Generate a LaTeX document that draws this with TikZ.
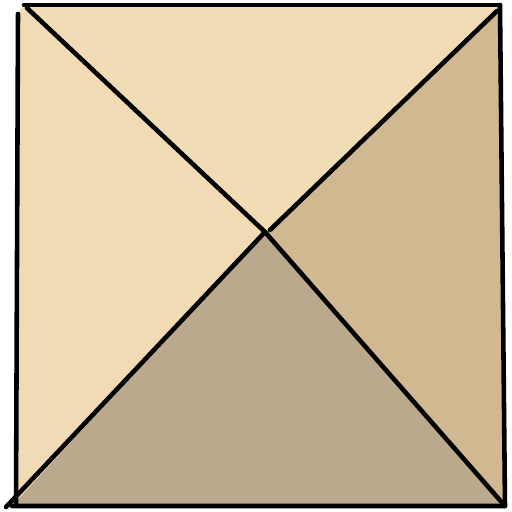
\documentclass[tikz,border=0pt]{standalone}
\definecolor{sandtop}{HTML}{F0DCB5}
\definecolor{sandleft}{HTML}{F1DBB5}
\definecolor{sandright}{HTML}{D0B890}
\definecolor{sandbottom}{HTML}{BAA98C}
\begin{document}
\begin{tikzpicture}[x=0.02cm, y=-0.02cm, edge/.style={line width=2.6pt, line cap=round, line join=round}]
\useasboundingbox (0,0) rectangle (512,512);
% corners and apex
\coordinate (tl) at (24,5);
\coordinate (tr) at (500,5);
\coordinate (br) at (505,506);
\coordinate (bl) at (12,506);
\coordinate (apex) at (265,232);

\fill[sandtop] (tl) -- (tr) -- (apex) -- cycle;
\fill[sandleft] (tl) -- (apex) -- (bl) -- (17,506) -- (17,14) -- cycle;
\fill[sandright] (tr) -- (br) -- (apex) -- cycle;
\fill[sandbottom] (bl) -- (apex) -- (br) -- cycle;

% outline
\draw[edge] (tl) -- (tr);
\draw[edge] (tr) -- (br) -- (bl);
\draw[edge] (18,14) -- (16,504);
\draw[edge] (27,8) -- (apex);
\draw[edge] (497,11) -- (270,230);
\draw[edge] (6,507) -- (apex) -- (br);
\end{tikzpicture}
\end{document}
